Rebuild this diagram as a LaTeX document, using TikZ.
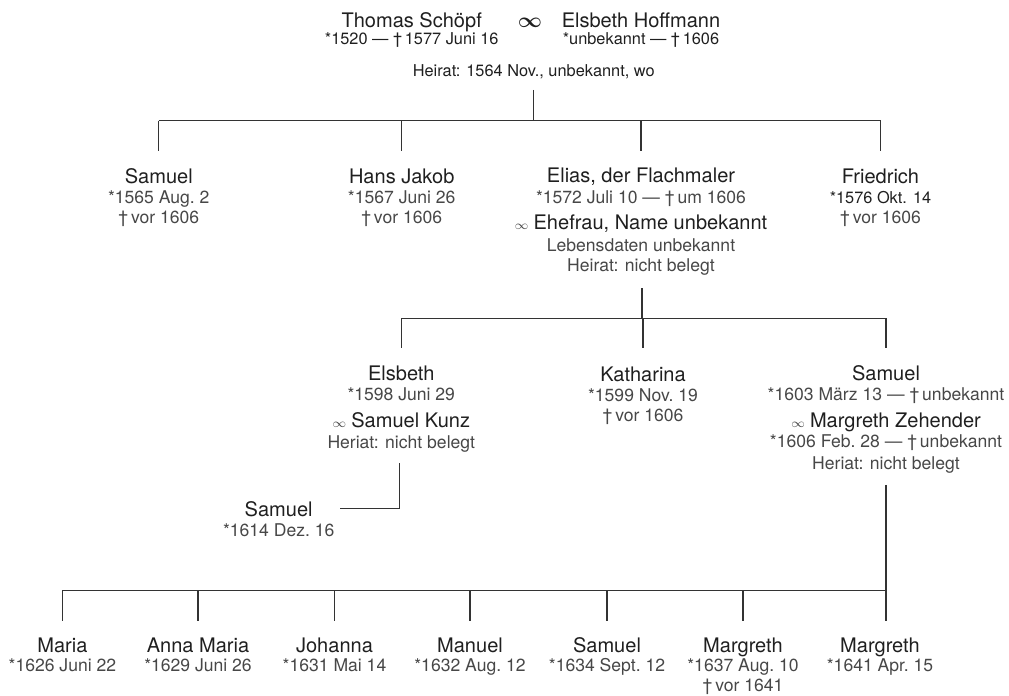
\documentclass[tikz,border=0pt]{standalone}
\usepackage{fontspec}
\setmainfont{TeX Gyre Heros}
\usetikzlibrary{positioning}
\newcommand{\namefont}{\fontsize{11.4}{11.55}\selectfont}
\newcommand{\datefont}{\fontsize{10}{11.55}\selectfont}
\newcommand{\medfont}{\fontsize{9.3}{11.55}\selectfont}
\newcommand{\pname}[1]{{\namefont\color{black!88}#1}}
\newcommand{\pmed}[1]{{\medfont\color{black!88}#1}}
\newcommand{\marr}{{\fontsize{7.5}{7.5}\selectfont$\infty$}}
\tikzset{
  tree/.style={line width=0.7pt, color=black!80},
  person/.style={anchor=base, align=center, inner sep=0pt, font=\datefont, text=black!72},
}
\begin{document}
\begin{tikzpicture}
\useasboundingbox (0,0) rectangle (20.18,13.92);
\node[person] (thomas) at (8.234,13.02) {\pname{Thomas Schöpf}\\[-1.5pt] \pmed{*1520 — †\,1577 Juni 16}};
\node[person] (hoffmann) at (12.82,13.02) {\pname{Elsbeth Hoffmann}\\[-1.5pt] \pmed{*unbekannt — †\,1606}};
\node[person] (marriage) at (10.6,13.374) {{\fontsize{13}{13}\selectfont\color{black!88}\boldmath$\infty$}};
\node[person] (heirat) at (10.674,12.386) {\pmed{Heirat: 1564 Nov., unbekannt, wo}};
\coordinate (stemA) at (10.67,12.12);
\coordinate (barA) at (10.67,11.506);
\draw[tree] (stemA) -- (barA);
\node[person] (samuelA) at (3.176,9.44) {\pname{Samuel}\\ *1565 Aug.~2\\ †\,vor 1606};
\node[person] (hansjakob) at (8.034,9.44) {\pname{Hans Jakob}\\ *1567 Juni 26\\ †\,vor 1606};
\node[person] (elias) at (12.82,8.486) {\pname{Elias, der Flachmaler}\\ *1572 Juli 10 — †\,um 1606\\[3.6pt] \marr~\pname{Ehefrau, Name unbekannt}\\[0.8pt] Lebensdaten unbekannt\\ Heirat: nicht belegt};
\node[person] (friedrich) at (17.61,9.44) {\pname{Friedrich}\\ \pmed{*1576 Okt. 14}\\ †\,vor 1606};
\draw[tree] (barA -| samuelA) -- (barA -| friedrich);
\draw[tree] (barA -| samuelA) -- ++(0,-0.6);
\draw[tree] (barA -| hansjakob) -- ++(0,-0.6);
\draw[tree] (barA -| elias) -- ++(0,-0.6);
\draw[tree] (barA -| friedrich) -- ++(0,-0.6);
\coordinate (stemB) at (12.84,8.154);
\coordinate (barB) at (12.84,7.554);
\draw[tree] (stemB) -- (barB);
\node[person] (elsbeth) at (8.026,4.954) {\pname{Elsbeth}\\ *1598 Juni 29\\[4pt] \marr~\pname{Samuel Kunz}\\ Heriat: nicht belegt};
\node[person] (katharina) at (12.86,5.486) {\pname{Katharina}\\ *1599 Nov.~19\\ †\,vor 1606};
\node[person] (samuelB) at (17.72,4.52) {\pname{Samuel}\\ *1603 März 13 — †\,unbekannt\\[4pt] \marr~\pname{Margreth Zehender}\\ *1606 Feb.~28 — †\,unbekannt\\[1pt] Heriat: nicht belegt};
\draw[tree] (barB -| elsbeth) -- (barB -| samuelB);
\draw[tree] (barB -| elsbeth) -- ++(0,-0.6);
\draw[tree] (barB -| katharina) -- ++(0,-0.6);
\draw[tree] (barB -| samuelB) -- ++(0,-0.6);
\node[person] (samuelK) at (5.574,3.186) {\pname{Samuel}\\ *1614 Dez.~16};
\coordinate (stemK) at (7.986,4.654);
\coordinate (kunzEnd) at (6.8,3.746);
\draw[tree] (stemK) |- (kunzEnd);
\coordinate (stemC) at (samuelB |- 0,4.22);
\coordinate (barC) at (samuelB |- 0,2.106);
\draw[tree] (stemC) -- (barC) -- ++(0,-0.6);
\node[person] (maria) at (1.248,0.486) {\pname{Maria}\\[-0.75pt] *1626 Juni 22};
\node[person] (annamaria) at (3.96,0.486) {\pname{Anna Maria}\\[-0.75pt] *1629 Juni 26};
\node[person] (johanna) at (6.69,0.486) {\pname{Johanna}\\[-0.75pt] *1631 Mai 14};
\node[person] (manuel) at (9.4,0.486) {\pname{Manuel}\\[-0.75pt] *1632 Aug.~12};
\node[person] (samuelC) at (12.14,0.486) {\pname{Samuel}\\[-0.75pt] *1634 Sept.~12};
\node[person] (margrethA) at (14.86,0.086) {\pname{Margreth}\\[-0.75pt] *1637 Aug.~10\\ †\,vor 1641};
\node[person] (margrethB) at (17.6,0.486) {\pname{Margreth}\\[-0.75pt] *1641 Apr.~15};
\draw[tree] (barC -| maria) -- (barC);
\draw[tree] (barC -| maria) -- ++(0,-0.6);
\draw[tree] (barC -| annamaria) -- ++(0,-0.6);
\draw[tree] (barC -| johanna) -- ++(0,-0.6);
\draw[tree] (barC -| manuel) -- ++(0,-0.6);
\draw[tree] (barC -| samuelC) -- ++(0,-0.6);
\draw[tree] (barC -| margrethA) -- ++(0,-0.6);
\end{tikzpicture}
\end{document}
